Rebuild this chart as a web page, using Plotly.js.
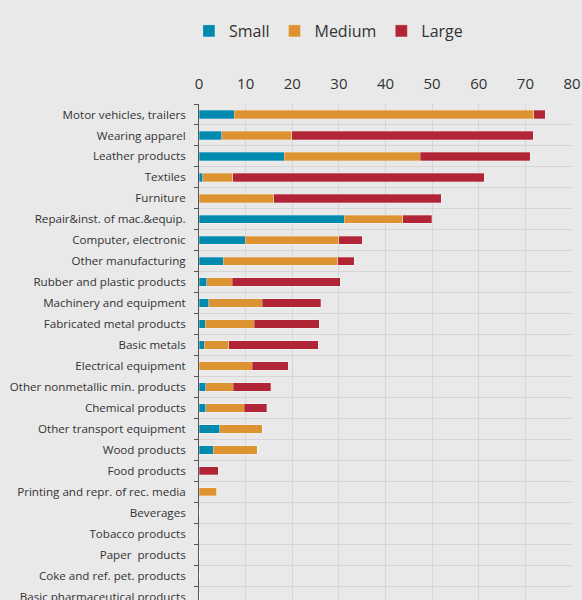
<!DOCTYPE html>
<html>
<head>
<meta charset="utf-8">
<script src="https://cdn.plot.ly/plotly-3.0.1.min.js"></script>
<style>
html, body { margin: 0; padding: 0; overflow: hidden; background: #e9e9e9; }
#chart { width: 582px; height: 620px; }
</style>
</head>
<body>
<div id="chart"></div>
<script>
const categories = [
  "Motor vehicles, trailers",
  "Wearing apparel",
  "Leather products",
  "Textiles",
  "Furniture",
  "Repair&inst. of mac.&equip.",
  "Computer, electronic",
  "Other manufacturing",
  "Rubber and plastic products",
  "Machinery and equipment",
  "Fabricated metal products",
  "Basic metals",
  "Electrical equipment",
  "Other nonmetallic min. products",
  "Chemical products",
  "Other transport equipment",
  "Wood products",
  "Food products",
  "Printing and repr. of rec. media",
  "Beverages",
  "Tobacco products",
  "Paper  products",
  "Coke and ref. pet. products",
  "Basic pharmaceutical products"
];
const small  = [7.6, 4.9, 18.3, 0.8, 0.0, 31.1, 9.9, 5.2, 1.7, 2.1, 1.3, 1.1, 0.0, 1.5, 1.5, 4.5, 3.1, 0.0, 0.0, 0, 0, 0, 0, 0];
const medium = [64.2, 15.0, 29.1, 6.4, 16.0, 12.6, 20.1, 24.6, 5.4, 11.5, 10.5, 5.3, 11.4, 5.8, 8.2, 9.1, 9.4, 0.0, 3.8, 0, 0, 0, 0, 0];
const large  = [2.5, 51.8, 23.6, 54.0, 36.0, 6.2, 5.0, 3.5, 23.2, 12.5, 14.0, 19.2, 7.7, 8.1, 4.8, 0.0, 0.0, 4.1, 0.0, 0, 0, 0, 0, 0];
const seriesNames = ["Small", "Medium", "Large"];
const seriesColors = ["#008AB0", "#DD9332", "#B12536"];

const values = [small, medium, large];
const traces = values.map((v, i) => ({
  type: "bar",
  orientation: "h",
  name: seriesNames[i],
  y: categories,
  x: v,
  width: 0.4,
  marker: { color: seriesColors[i], line: { color: "rgba(255,255,255,0.35)", width: 0.8 } },
  hoverinfo: "x+y+name"
}));

const layout = {
  width: 582,
  height: 620,
  barmode: "stack",
  paper_bgcolor: "#e9e9e9",
  plot_bgcolor: "#e9e9e9",
  font: { family: "Open Sans, sans-serif", color: "#333333" },
  margin: { l: 199, r: 10.3, t: 103.5, b: 12.5 },
  showlegend: true,
  legend: {
    orientation: "h",
    x: -0.027, xanchor: "left", xref: "paper",
    y: 0.95, yanchor: "middle", yref: "container",
    font: { size: 16, color: "#333333" },
    bgcolor: "rgba(0,0,0,0)",
    traceorder: "normal"
  },
  xaxis: {
    side: "top",
    range: [0, 80],
    dtick: 10,
    tick0: 0,
    showgrid: true,
    gridcolor: "#d6d6d6",
    gridwidth: 1,
    zeroline: false,
    showline: false,
    ticks: "",
    ticklabelstandoff: 11,
    tickfont: { size: 15, color: "#333333" },
    fixedrange: true
  },
  yaxis: {
    type: "category",
    range: [categories.length - 0.5, -0.5],
    tickson: "boundaries",
    ticks: "outside",
    ticklen: 4,
    tickcolor: "#555555",
    showline: true,
    linecolor: "#555555",
    linewidth: 1,
    showgrid: true,
    gridcolor: "#d6d6d6",
    gridwidth: 1,
    zeroline: false,
    ticklabelstandoff: 10,
    tickfont: { size: 11.6, color: "#333333" },
    fixedrange: true
  }
};

Plotly.newPlot("chart", traces, layout, { displayModeBar: false, staticPlot: false });
</script>
</body>
</html>
